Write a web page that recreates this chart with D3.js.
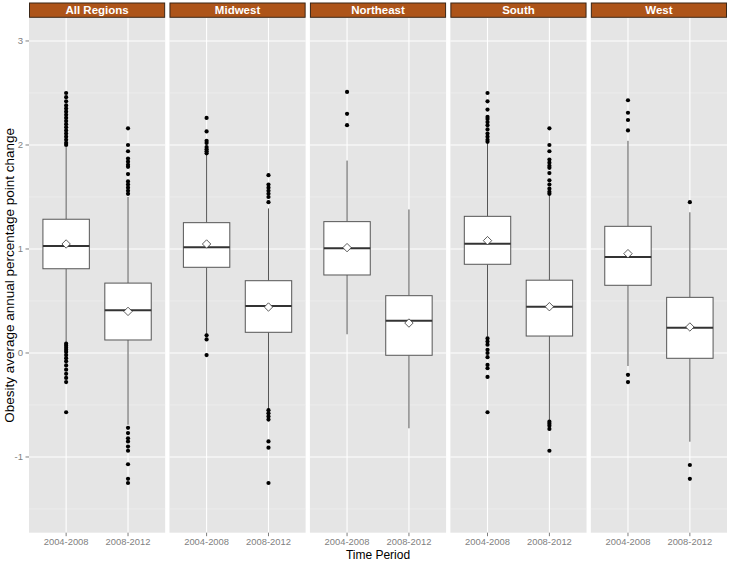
<!DOCTYPE html>
<html><head><meta charset="utf-8">
<script src="https://cdn.jsdelivr.net/npm/d3@7"></script>
<style>body{margin:0;background:#fff}svg{display:block}</style>
</head><body>
<script>
const regions = ["All Regions","Midwest","Northeast","South","West"];
const periods = ["2004-2008","2008-2012"];
const yTicks = [-1,0,1,2,3];
// stats per region: [2004-2008, 2008-2012]
const lowerWhisker = [[0.08,-0.69],[0.17,-0.55],[0.18,-0.724],[0.157,-0.65],[-0.125,-0.853]];
const q1 =          [[0.81,0.125],[0.824,0.199],[0.75,-0.022],[0.853,0.163],[0.651,-0.051]];
const medians =     [[1.029,0.41],[1.016,0.452],[1.006,0.31],[1.051,0.445],[0.923,0.243]];
const q3 =          [[1.286,0.672],[1.253,0.695],[1.263,0.551],[1.314,0.70],[1.218,0.535]];
const upperWhisker =[[1.98,1.50],[1.92,1.39],[1.85,1.38],[2.03,1.52],[2.04,1.353]];
const means =       [[1.048,0.40],[1.048,0.442],[1.013,0.288],[1.08,0.445],[0.955,0.25]];
const outliersAll = [
  [2.50,2.46,2.42,2.38,2.35,2.32,2.29,2.26,2.23,2.20,2.17,2.14,2.11,2.08,2.05,2.02,2.0,
   0.09,0.07,0.05,0.03,0.01,-0.02,-0.05,-0.08,-0.12,-0.16,-0.20,-0.24,-0.28,-0.57],
  [2.16,2.0,1.94,1.87,1.84,1.81,1.79,1.72,1.65,1.62,1.59,1.56,1.53,
   -0.72,-0.77,-0.82,-0.85,-0.90,-0.94,-1.07,-1.21,-1.25]];
const outliersMidwest = [
  [2.26,2.13,2.04,2.02,1.98,1.96,1.94,1.92,0.17,0.13,-0.02],
  [1.71,1.62,1.59,1.56,1.53,1.50,1.45,-0.55,-0.58,-0.61,-0.64,-0.85,-0.91,-1.25]];
const outliersNortheast = [[2.51,2.30,2.19],[]];
const outliersSouth = [
  [2.50,2.42,2.34,2.27,2.25,2.22,2.19,2.15,2.11,2.08,2.05,2.03,
   0.14,0.11,0.08,0.03,0.0,-0.04,-0.115,-0.147,-0.23,-0.57],
  [2.16,2.0,1.94,1.86,1.83,1.80,1.78,1.73,1.66,1.62,1.58,1.55,1.53,
   -0.66,-0.68,-0.70,-0.73,-0.94]];
const outliersWest = [[2.43,2.31,2.24,2.14,-0.21,-0.28],[1.45,-1.077,-1.21]];
const outliers = [outliersAll,outliersMidwest,outliersNortheast,outliersSouth,outliersWest];

(function(){
const W=731,H=561;
const svg=d3.select("body").append("svg").attr("width",W).attr("height",H)
  .style("font-family","'Liberation Sans', Arial, sans-serif");
const pL=29, pR=727, pT=18, pB=532.7, gap=4.3;
const pw=(pR-pL-gap*4)/5;
const y=d3.scaleLinear().domain([-1.728,3.221]).range([pB,pT]);
const minor=[-1.5,-0.5,0.5,1.5,2.5];

regions.forEach((r,i)=>{
  const x0=pL+i*(pw+gap);
  const xc=d3.scalePoint().domain(periods).range([0,pw]).padding(0.6);
  const g=svg.append("g").attr("transform",`translate(${x0},0)`);
  g.append("rect").attr("x",0).attr("y",pT).attr("width",pw).attr("height",pB-pT).attr("fill","#E5E5E5");
  g.selectAll(".mn").data(minor).join("line").attr("x1",0).attr("x2",pw)
    .attr("y1",d=>y(d)).attr("y2",d=>y(d)).attr("stroke","#F2F2F2").attr("stroke-width",0.6);
  g.selectAll(".mj").data(yTicks).join("line").attr("x1",0).attr("x2",pw)
    .attr("y1",d=>y(d)).attr("y2",d=>y(d)).attr("stroke","#fff").attr("stroke-width",1.1);
  g.selectAll(".vx").data(periods).join("line").attr("x1",d=>xc(d)).attr("x2",d=>xc(d))
    .attr("y1",pT).attr("y2",pB).attr("stroke","#fff").attr("stroke-width",1.1);
  g.append("rect").attr("x",0.5).attr("y",3).attr("width",pw-1).attr("height",14.3)
    .attr("fill","#AD5419").attr("stroke","#3B2616").attr("stroke-width",1);
  g.append("text").attr("x",pw/2).attr("y",14.4).attr("text-anchor","middle")
    .attr("fill","#fff").attr("font-weight","bold").attr("font-size",11.5).text(r);
  const bw=0.75*(xc.step());
  periods.forEach((p,j)=>{
    const cx=xc(p);
    g.append("line").attr("x1",cx).attr("x2",cx).attr("y1",y(q3[i][j])).attr("y2",y(upperWhisker[i][j]))
      .attr("stroke","#555").attr("stroke-width",1);
    g.append("line").attr("x1",cx).attr("x2",cx).attr("y1",y(q1[i][j])).attr("y2",y(lowerWhisker[i][j]))
      .attr("stroke","#555").attr("stroke-width",1);
    g.append("rect").attr("x",cx-bw/2).attr("y",y(q3[i][j])).attr("width",bw)
      .attr("height",y(q1[i][j])-y(q3[i][j])).attr("fill","#fff").attr("stroke","#555").attr("stroke-width",1);
    g.append("line").attr("x1",cx-bw/2).attr("x2",cx+bw/2).attr("y1",y(medians[i][j])).attr("y2",y(medians[i][j]))
      .attr("stroke","#333").attr("stroke-width",2);
    g.selectAll(null).data(outliers[i][j]).join("circle").attr("cx",cx).attr("cy",d=>y(d)).attr("r",2.1).attr("fill","#000");
    const my=y(means[i][j]);
    g.append("path").attr("d",`M${cx},${my-4.2}L${cx+4.2},${my}L${cx},${my+4.2}L${cx-4.2},${my}Z`)
      .attr("fill","#fff").attr("stroke","#333").attr("stroke-width",0.8);
    g.append("line").attr("x1",cx).attr("x2",cx).attr("y1",pB).attr("y2",pB+3.5).attr("stroke","#7F7F7F");
    g.append("text").attr("x",cx).attr("y",pB+12.5).attr("text-anchor","middle")
      .attr("fill","#7F7F7F").attr("font-size",9.4).text(p);
  });
});
const ya=svg.append("g");
yTicks.forEach(t=>{
  ya.append("line").attr("x1",pL-3.5).attr("x2",pL).attr("y1",y(t)).attr("y2",y(t)).attr("stroke","#7F7F7F");
  ya.append("text").attr("x",pL-6).attr("y",y(t)+3.5).attr("text-anchor","end")
    .attr("fill","#7F7F7F").attr("font-size",9.6).text(t);
});
svg.append("text").attr("transform",`translate(14,${(pT+pB)/2}) rotate(-90)`).attr("text-anchor","middle")
  .attr("font-size",13.5).attr("fill","#000").text("Obesity average annual percentage point change");
svg.append("text").attr("x",(pL+pR)/2).attr("y",559).attr("text-anchor","middle")
  .attr("font-size",12).attr("fill","#000").text("Time Period");
})();
</script>
</body></html>
